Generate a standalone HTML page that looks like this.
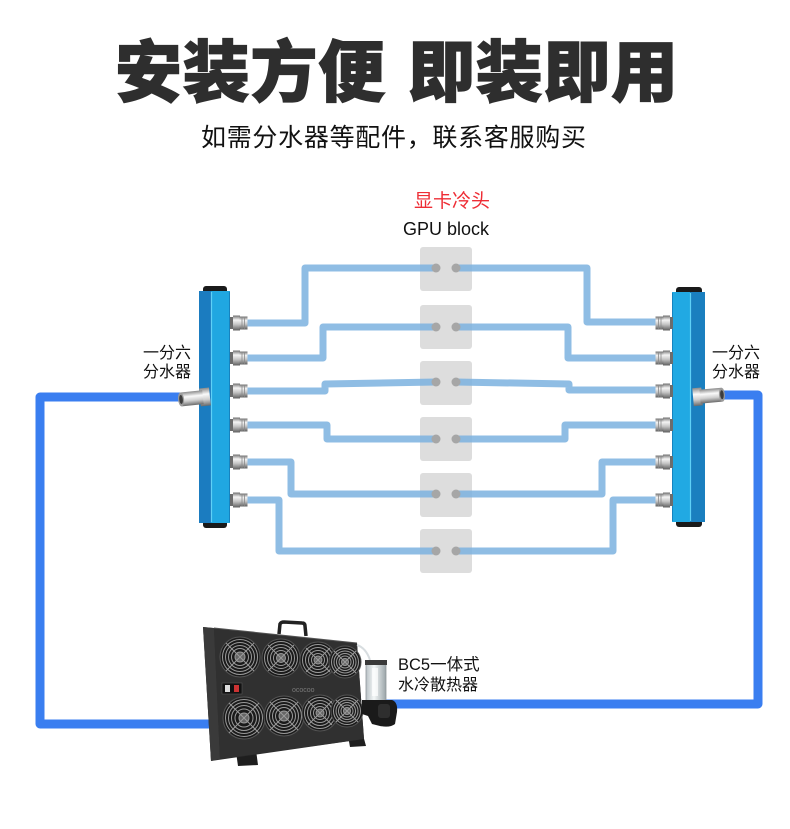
<!DOCTYPE html>
<html>
<head>
<meta charset="utf-8">
<style>
  html, body { margin: 0; padding: 0; background: #ffffff; }
  body { width: 790px; height: 829px; overflow: hidden; }
  svg { display: block; }
  .cjk { font-family: "Liberation Sans", "Noto Sans CJK SC", sans-serif; }
</style>
</head>
<body>
<svg width="790" height="829" viewBox="0 0 790 829" xmlns="http://www.w3.org/2000/svg">
  <defs>
    <linearGradient id="silver" x1="0" y1="0" x2="0" y2="1">
      <stop offset="0" stop-color="#6e6e6e"/>
      <stop offset="0.3" stop-color="#f4f4f4"/>
      <stop offset="0.6" stop-color="#c4c4c4"/>
      <stop offset="1" stop-color="#5e5e5e"/>
    </linearGradient>
    <linearGradient id="silverH" x1="0" y1="0" x2="0" y2="1">
      <stop offset="0" stop-color="#8a8a8a"/>
      <stop offset="0.35" stop-color="#fafafa"/>
      <stop offset="0.65" stop-color="#cfcfcf"/>
      <stop offset="1" stop-color="#6a6a6a"/>
    </linearGradient>
    <linearGradient id="glass" x1="0" y1="0" x2="1" y2="0">
      <stop offset="0" stop-color="#b8c0c4"/>
      <stop offset="0.4" stop-color="#f4f8f8"/>
      <stop offset="1" stop-color="#9aa4a8"/>
    </linearGradient>
    <g id="fit">
      <rect x="0" y="-6" width="4" height="12" fill="#6c6c6c"/>
      <rect x="3" y="-7.5" width="7" height="15" fill="url(#silver)"/>
      <rect x="9.5" y="-6.5" width="8" height="13" fill="url(#silver)"/>
      <line x1="12" y1="-6" x2="12" y2="6" stroke="#8a8a8a" stroke-width="0.8"/>
      <line x1="14.5" y1="-6" x2="14.5" y2="6" stroke="#8a8a8a" stroke-width="0.8"/>
    </g>
  </defs>

  <!-- Title -->
  <text class="cjk" x="115" y="96" font-size="67" font-weight="900" fill="#2e2e2e" stroke="#2e2e2e" stroke-width="1.2" textLength="270" lengthAdjust="spacing">安装方便</text>
  <text class="cjk" x="408" y="96" font-size="67" font-weight="900" fill="#2e2e2e" stroke="#2e2e2e" stroke-width="1.2" textLength="270" lengthAdjust="spacing">即装即用</text>

  <!-- Subtitle -->
  <text class="cjk" x="201" y="146" font-size="25" fill="#111111" textLength="385" lengthAdjust="spacing">如需分水器等配件，联系客服购买</text>

  <!-- GPU block label -->
  <text class="cjk" x="414" y="207" font-size="19" fill="#ee2d35">显卡冷头</text>
  <text x="446" y="235" font-family="Liberation Sans, sans-serif" font-size="18" fill="#111111" text-anchor="middle">GPU block</text>

  <!-- Dark blue loop -->
  <g fill="none" stroke="#3a7ef0" stroke-width="9" stroke-linejoin="round">
    <path d="M182,397 H40 V724 H215"/>
    <path d="M718,395 H758 V704 H385"/>
  </g>

  <!-- GPU blocks -->
  <g fill="#dddddd">
    <rect x="420" y="247" width="52" height="44" rx="3"/>
    <rect x="420" y="305" width="52" height="44" rx="3"/>
    <rect x="420" y="361" width="52" height="44" rx="3"/>
    <rect x="420" y="417" width="52" height="44" rx="3"/>
    <rect x="420" y="473" width="52" height="44" rx="3"/>
    <rect x="420" y="529" width="52" height="44" rx="3"/>
  </g>

  <!-- Light blue pipes -->
  <g fill="none" stroke="#7bb2df" stroke-opacity="0.85" stroke-width="7" stroke-linejoin="round">
    <path d="M246,323 H305 V268 H436"/>
    <path d="M246,358 H323 V327 H436"/>
    <path d="M246,391 H325 V384 L436,382"/>
    <path d="M246,425 H327 V439 H436"/>
    <path d="M246,462 H291 V494 H436"/>
    <path d="M246,500 H279 V551 H436"/>

    <path d="M456,268 H587 V322 H658"/>
    <path d="M456,327 H568 V358 H658"/>
    <path d="M456,382 L569,384 V390 H658"/>
    <path d="M456,439 H565 V425 H658"/>
    <path d="M456,494 H602 V462 H658"/>
    <path d="M456,551 H613 V500 H658"/>
  </g>

  <!-- Dots on GPU blocks -->
  <g fill="#a6a6a6">
    <circle cx="436" cy="268" r="4.5"/><circle cx="456" cy="268" r="4.5"/>
    <circle cx="436" cy="327" r="4.5"/><circle cx="456" cy="327" r="4.5"/>
    <circle cx="436" cy="382" r="4.5"/><circle cx="456" cy="382" r="4.5"/>
    <circle cx="436" cy="439" r="4.5"/><circle cx="456" cy="439" r="4.5"/>
    <circle cx="436" cy="494" r="4.5"/><circle cx="456" cy="494" r="4.5"/>
    <circle cx="436" cy="551" r="4.5"/><circle cx="456" cy="551" r="4.5"/>
  </g>

  <!-- Left manifold -->
  <g>
    <rect x="203" y="286" width="24" height="9" rx="3" fill="#1a1a1a"/>
    <rect x="203" y="518" width="24" height="10" rx="3" fill="#1a1a1a"/>
    <rect x="199" y="291" width="13" height="232" fill="#1b7cc0"/>
    <rect x="211" y="291" width="19" height="232" fill="#20a7e1"/>
    <line x1="211.5" y1="292" x2="211.5" y2="522" stroke="#5fd0f6" stroke-width="1.2"/>
    <line x1="229.5" y1="292" x2="229.5" y2="522" stroke="#1683bf" stroke-width="1"/>
    <use href="#fit" transform="translate(230,323)"/>
    <use href="#fit" transform="translate(230,358)"/>
    <use href="#fit" transform="translate(230,391)"/>
    <use href="#fit" transform="translate(230,425)"/>
    <use href="#fit" transform="translate(230,462)"/>
    <use href="#fit" transform="translate(230,500)"/>
    <!-- side inlet -->
    <g transform="rotate(-6 195 398)">
      <rect x="200" y="389" width="10" height="18" fill="url(#silverH)"/>
      <rect x="181" y="391" width="22" height="14" fill="url(#silverH)"/>
      <ellipse cx="181" cy="398" rx="3" ry="7" fill="#9a9a9a"/>
      <ellipse cx="181" cy="398" rx="1.8" ry="4.5" fill="#3c3c3c"/>
    </g>
  </g>

  <!-- Right manifold -->
  <g>
    <rect x="676" y="287" width="26" height="9" rx="3" fill="#1a1a1a"/>
    <rect x="676" y="517" width="26" height="10" rx="3" fill="#1a1a1a"/>
    <rect x="672" y="292" width="19" height="230" fill="#21a9e3"/>
    <rect x="690" y="292" width="15" height="230" fill="#1a7fbf"/>
    <line x1="690.5" y1="293" x2="690.5" y2="521" stroke="#5fd0f6" stroke-width="1.2"/>
    <line x1="672.5" y1="293" x2="672.5" y2="521" stroke="#1683bf" stroke-width="1"/>
    <use href="#fit" transform="translate(673,323) scale(-1,1)"/>
    <use href="#fit" transform="translate(673,358) scale(-1,1)"/>
    <use href="#fit" transform="translate(673,391) scale(-1,1)"/>
    <use href="#fit" transform="translate(673,425) scale(-1,1)"/>
    <use href="#fit" transform="translate(673,462) scale(-1,1)"/>
    <use href="#fit" transform="translate(673,500) scale(-1,1)"/>
    <!-- side outlet -->
    <g transform="rotate(-5 707 396)">
      <rect x="693" y="387" width="9" height="18" fill="url(#silverH)"/>
      <rect x="700" y="389" width="22" height="14" fill="url(#silverH)"/>
      <ellipse cx="722" cy="396" rx="3" ry="7" fill="#9a9a9a"/>
      <ellipse cx="722" cy="396" rx="1.8" ry="4.5" fill="#3c3c3c"/>
    </g>
  </g>

  <!-- Manifold labels -->
  <text class="cjk" x="143" y="358" font-size="16" fill="#111">一分六</text>
  <text class="cjk" x="143" y="377" font-size="16" fill="#111">分水器</text>
  <text class="cjk" x="712" y="358" font-size="16" fill="#111">一分六</text>
  <text class="cjk" x="712" y="377" font-size="16" fill="#111">分水器</text>

  <!-- Radiator -->
  <g>
    <!-- handle -->
    <path d="M279,634 L280,624 Q281,622 284,622 L302,623 Q305,623 305,626 L306,636" fill="none" stroke="#222" stroke-width="3.5"/>
    <!-- feet -->
    <path d="M236,752 L256,750 L258,765 L238,766 Z" fill="#1e1e1e"/>
    <path d="M348,736 L363,735 L366,746 L350,747 Z" fill="#1e1e1e"/>
    <!-- body -->
    <polygon points="203,627 357,643 364,739 211,761" fill="#2c2c2c"/>
    <polygon points="203,627 214,628 220,759 211,761" fill="#3a3a3a"/>
    <polygon points="214,628 357,643 364,739 220,759" fill="#303030"/>
    <line x1="214" y1="628" x2="357" y2="643" stroke="#555" stroke-width="1"/>
    <!-- fans -->
    <g stroke="#9a9a9a" fill="none" stroke-width="1">
      <g transform="translate(240,657)">
        <circle r="20" fill="#1a1a1a" stroke="#555"/>
        <circle r="17.5"/><circle r="14.5"/><circle r="11.5"/><circle r="8.5"/><circle r="5" fill="#666"/>
        <line x1="-14" y1="-14" x2="14" y2="14"/><line x1="-14" y1="14" x2="14" y2="-14"/>
      </g>
      <g transform="translate(281,658)">
        <circle r="19" fill="#1a1a1a" stroke="#555"/>
        <circle r="16.5"/><circle r="13.5"/><circle r="10.5"/><circle r="7.5"/><circle r="4.5" fill="#666"/>
        <line x1="-13" y1="-13" x2="13" y2="13"/><line x1="-13" y1="13" x2="13" y2="-13"/>
      </g>
      <g transform="translate(318,660)">
        <circle r="18" fill="#1a1a1a" stroke="#555"/>
        <circle r="15.5"/><circle r="12.5"/><circle r="9.5"/><circle r="6.5"/><circle r="4" fill="#666"/>
        <line x1="-12" y1="-12" x2="12" y2="12"/><line x1="-12" y1="12" x2="12" y2="-12"/>
      </g>
      <g transform="translate(345,662)">
        <circle r="16" fill="#1a1a1a" stroke="#555"/>
        <circle r="13.5"/><circle r="11"/><circle r="8.5"/><circle r="6"/><circle r="3.5" fill="#666"/>
        <line x1="-11" y1="-11" x2="11" y2="11"/><line x1="-11" y1="11" x2="11" y2="-11"/>
      </g>
      <g transform="translate(244,718)">
        <circle r="21" fill="#1a1a1a" stroke="#555"/>
        <circle r="18.5"/><circle r="15.5"/><circle r="12.5"/><circle r="9"/><circle r="5" fill="#666"/>
        <line x1="-15" y1="-15" x2="15" y2="15"/><line x1="-15" y1="15" x2="15" y2="-15"/>
      </g>
      <g transform="translate(284,716)">
        <circle r="20" fill="#1a1a1a" stroke="#555"/>
        <circle r="17.5"/><circle r="14.5"/><circle r="11.5"/><circle r="8.5"/><circle r="5" fill="#666"/>
        <line x1="-14" y1="-14" x2="14" y2="14"/><line x1="-14" y1="14" x2="14" y2="-14"/>
      </g>
      <g transform="translate(320,713)">
        <circle r="18" fill="#1a1a1a" stroke="#555"/>
        <circle r="15.5"/><circle r="12.5"/><circle r="9.5"/><circle r="6.5"/><circle r="4" fill="#666"/>
        <line x1="-12" y1="-12" x2="12" y2="12"/><line x1="-12" y1="12" x2="12" y2="-12"/>
      </g>
      <g transform="translate(347,711)">
        <circle r="16" fill="#1a1a1a" stroke="#555"/>
        <circle r="13.5"/><circle r="11"/><circle r="8.5"/><circle r="6"/><circle r="3.5" fill="#666"/>
        <line x1="-11" y1="-11" x2="11" y2="11"/><line x1="-11" y1="11" x2="11" y2="-11"/>
      </g>
    </g>
    <!-- switch -->
    <rect x="222" y="683" width="20" height="11" fill="#111" stroke="#555" stroke-width="0.6"/>
    <rect x="225" y="685" width="5" height="7" fill="#ddd"/>
    <rect x="234" y="685" width="5" height="7" fill="#c33"/>
    <!-- logo -->
    <text x="292" y="692" font-family="Liberation Sans, sans-serif" font-size="7" fill="#7a7a7a">ococoo</text>
    <!-- reservoir tube -->
    <path d="M357,645 Q366,648 370,660" fill="none" stroke="#d8dde0" stroke-width="2"/>
    <rect x="366" y="663" width="20" height="39" fill="url(#glass)" stroke="#8f9699" stroke-width="0.8"/>
    <rect x="365" y="660" width="22" height="5" fill="#3a3a3a"/>
    <rect x="372" y="668" width="6" height="28" fill="#ffffff" opacity="0.7"/>
    <!-- pump -->
    <path d="M362,700 L392,700 Q398,702 397,712 L395,724 Q390,728 380,726 L372,724 L368,716 L362,714 Z" fill="#1a1a1a"/>
    <rect x="378" y="704" width="12" height="14" rx="3" fill="#2e2e2e"/>
  </g>

  <!-- Radiator label -->
  <text class="cjk" x="398" y="670" font-size="16.5" fill="#111">BC5一体式</text>
  <text class="cjk" x="398" y="690" font-size="16" fill="#111">水冷散热器</text>
</svg>
</body>
</html>
